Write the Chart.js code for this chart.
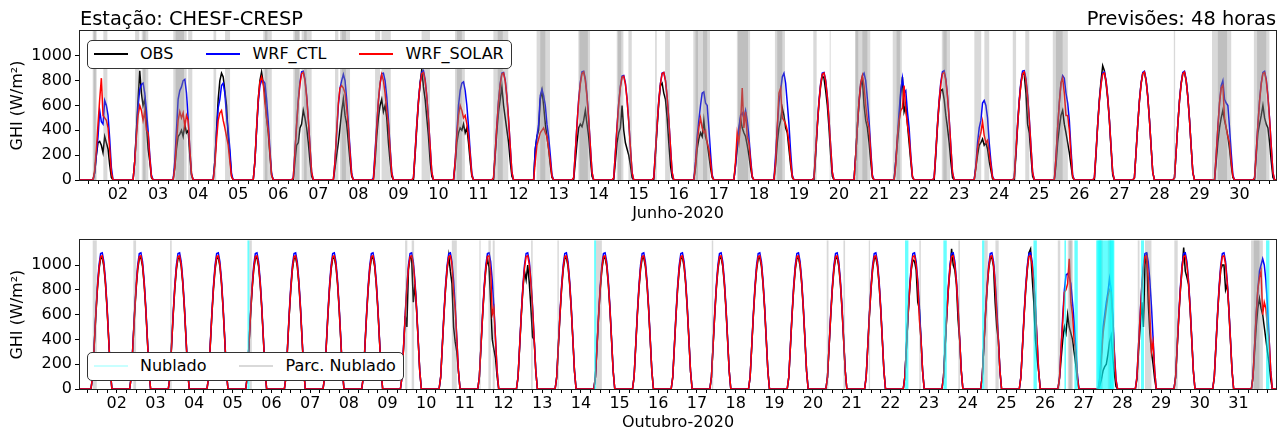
<!DOCTYPE html>
<html lang="pt-BR">
<head>
<meta charset="utf-8">
<title>GHI - CHESF-CRESP</title>
<script src="https://cdn.jsdelivr.net/npm/chart.js"></script>
<style>
  body { margin: 0; background: #fff; }
  #wrap { position: relative; width: 1286px; height: 434px; font-family: 'DejaVu Sans', sans-serif; color: #000; }
  canvas { position: absolute; left: 0; }
  #topChart { top: 0; }
  #bottomChart { top: 225px; }
  .title { position: absolute; top: 9px; font-size: 19.4px; line-height: 20px; white-space: nowrap; }
  .legend { position: absolute; left: 87px; z-index: 2; box-sizing: border-box; height: 29px; border: 1px solid #333;
            border-radius: 5px; background: #fff; display: flex; align-items: center; padding: 0 7px 2px 6px;
            font-size: 16px; white-space: nowrap; }
  .legend .item { display: flex; align-items: center; margin-right: 33px; }
  .legend .item:last-child { margin-right: 0; }
  .legend .swatch { width: 34px; height: 0; border-top: 2px solid; margin-right: 12px; }
</style>
</head>
<body>
<div id="wrap">
  <canvas id="topChart" width="1286" height="225"></canvas>
  <canvas id="bottomChart" width="1286" height="209"></canvas>
  <div class="title" style="left:80px">Estação: CHESF-CRESP</div>
  <div class="title" style="right:10px">Previsões: 48 horas</div>
  <div class="legend" style="top:40px">
    <div class="item"><span class="swatch" style="border-color:#000"></span>OBS</div>
    <div class="item"><span class="swatch" style="border-color:#0000ff"></span>WRF_CTL</div>
    <div class="item"><span class="swatch" style="border-color:#ff0000"></span>WRF_SOLAR</div>
  </div>
  <div class="legend" style="top:352px">
    <div class="item"><span class="swatch" style="border-color:#c8ffff"></span>Nublado</div>
    <div class="item"><span class="swatch" style="border-color:#d9d9d9"></span>Parc. Nublado</div>
  </div>
</div>
<script>
// horas UTC dos valores diurnos e das horas de noite (GHI = 0)
const dayHours = [9, 10, 11, 12, 13, 14, 15, 16, 17, 18, 19, 20];
const nightHours = [8, 21];

// Junho-2020: um vetor de 12 valores horarios por dia (W/m2)
const ctlJun = [
  [0, 60, 200, 350, 560, 470, 450, 640, 600, 520, 330, 100],
  [0, 150, 380, 600, 730, 770, 780, 700, 560, 400, 200, 40],
  [0, 150, 400, 650, 720, 750, 800, 810, 700, 500, 250, 50],
  [0, 150, 380, 580, 650, 760, 780, 700, 520, 400, 250, 50],
  [0, 150, 400, 620, 760, 800, 800, 780, 650, 470, 250, 50],
  [18, 230, 451, 646, 788, 872, 876, 814, 681, 496, 274, 62],
  [0, 150, 380, 600, 740, 800, 850, 800, 650, 450, 250, 50],
  [17, 226, 444, 635, 774, 857, 861, 800, 670, 487, 270, 61],
  [18, 229, 449, 642, 783, 867, 881, 810, 678, 493, 273, 62],
  [0, 150, 380, 600, 720, 780, 790, 720, 600, 430, 230, 50],
  [18, 228, 446, 639, 779, 862, 866, 805, 674, 490, 271, 61],
  [0, 250, 350, 450, 680, 730, 680, 600, 450, 350, 200, 40],
  [18, 230, 451, 646, 788, 872, 876, 814, 681, 496, 274, 62],
  [17, 221, 434, 621, 757, 837, 842, 782, 655, 476, 264, 60],
  [18, 228, 446, 639, 779, 862, 866, 805, 674, 490, 271, 61],
  [0, 150, 350, 480, 600, 700, 710, 620, 600, 420, 220, 40],
  [0, 120, 300, 420, 520, 540, 500, 560, 480, 350, 180, 30],
  [0, 200, 420, 620, 720, 830, 860, 780, 620, 450, 230, 40],
  [18, 228, 446, 639, 779, 862, 866, 805, 674, 490, 271, 61],
  [0, 200, 430, 640, 780, 840, 860, 800, 650, 480, 250, 40],
  [0, 150, 350, 550, 720, 820, 700, 720, 550, 420, 200, 30],
  [18, 230, 451, 646, 788, 872, 880, 814, 681, 496, 274, 62],
  [0, 120, 300, 420, 480, 620, 640, 600, 500, 300, 150, 30],
  [18, 231, 454, 650, 792, 877, 881, 819, 685, 498, 276, 62],
  [0, 180, 420, 620, 780, 840, 820, 700, 620, 480, 250, 40],
  [18, 228, 446, 639, 779, 862, 870, 805, 674, 490, 271, 61],
  [18, 229, 449, 642, 783, 867, 876, 810, 678, 493, 273, 62],
  [18, 229, 449, 642, 783, 867, 876, 810, 678, 493, 273, 62],
  [0, 200, 420, 620, 760, 800, 650, 620, 600, 420, 220, 40],
  [18, 229, 449, 642, 783, 867, 876, 810, 678, 493, 273, 62]
];

const solarJun = [
  [0, 80, 250, 450, 650, 820, 520, 500, 480, 420, 250, 60],
  [0, 150, 350, 520, 600, 560, 480, 550, 400, 380, 180, 30],
  [0, 100, 300, 480, 550, 500, 540, 430, 520, 480, 250, 50],
  [0, 120, 320, 480, 540, 560, 480, 420, 350, 280, 150, 30],
  [0, 150, 420, 650, 790, 830, 780, 620, 500, 400, 220, 40],
  [17, 226, 444, 635, 774, 857, 866, 800, 670, 487, 270, 61],
  [0, 150, 400, 620, 740, 760, 740, 700, 580, 420, 220, 40],
  [0, 200, 420, 640, 780, 850, 800, 700, 560, 450, 250, 50],
  [17, 226, 444, 635, 774, 857, 866, 800, 670, 487, 270, 61],
  [0, 150, 350, 520, 600, 560, 500, 520, 450, 350, 200, 40],
  [17, 225, 441, 631, 770, 852, 861, 796, 666, 484, 268, 61],
  [0, 150, 280, 330, 380, 400, 420, 380, 350, 250, 150, 30],
  [17, 226, 444, 635, 774, 857, 870, 800, 670, 487, 270, 61],
  [17, 218, 428, 613, 748, 827, 836, 773, 647, 470, 260, 59],
  [17, 226, 444, 635, 774, 857, 866, 800, 670, 487, 270, 61],
  [0, 120, 300, 420, 500, 420, 380, 400, 300, 250, 150, 30],
  [0, 150, 380, 300, 450, 740, 420, 550, 350, 300, 150, 30],
  [0, 150, 420, 700, 740, 500, 480, 450, 400, 300, 150, 30],
  [17, 225, 441, 631, 770, 852, 861, 796, 666, 484, 268, 61],
  [0, 200, 430, 640, 780, 840, 760, 600, 480, 420, 220, 30],
  [0, 120, 350, 480, 560, 580, 760, 560, 450, 350, 180, 30],
  [17, 226, 444, 635, 774, 857, 866, 800, 670, 487, 270, 61],
  [0, 100, 250, 330, 380, 470, 360, 300, 320, 220, 120, 20],
  [17, 226, 444, 635, 774, 857, 870, 800, 670, 487, 270, 61],
  [0, 180, 420, 620, 780, 820, 700, 520, 520, 400, 200, 30],
  [17, 225, 441, 631, 770, 852, 861, 796, 666, 484, 268, 61],
  [17, 226, 444, 635, 774, 857, 870, 800, 670, 487, 270, 61],
  [17, 226, 444, 635, 774, 857, 870, 800, 670, 487, 270, 61],
  [0, 200, 420, 620, 740, 760, 500, 420, 350, 300, 150, 30],
  [17, 226, 444, 635, 774, 857, 866, 800, 670, 487, 270, 61]
];

const obsJun = [
  [0, 60, 200, 300, 310, 280, 220, 350, 300, 250, 120, 20],
  [0, 150, 400, 650, 880, 700, 600, 650, 450, 250, 150, 20],
  [0, 100, 250, 350, 370, 400, 350, 450, 380, 400, 200, 40],
  [0, 150, 400, 650, 800, 860, 830, 720, 600, 350, 200, 30],
  [0, 150, 400, 650, 800, 870, 780, 700, 500, 380, 200, 40],
  [0, 150, 280, 300, 420, 450, 560, 500, 420, 300, 150, 30],
  [0, 100, 200, 300, 420, 550, 650, 520, 450, 300, 150, 30],
  [0, 150, 350, 500, 600, 650, 550, 600, 500, 300, 150, 30],
  [0, 200, 420, 620, 780, 890, 750, 650, 500, 350, 150, 30],
  [0, 120, 300, 380, 420, 400, 450, 380, 420, 300, 150, 30],
  [0, 200, 400, 550, 650, 750, 600, 500, 400, 300, 150, 30],
  [0, 250, 350, 400, 650, 720, 600, 450, 350, 250, 120, 20],
  [0, 150, 300, 420, 450, 430, 480, 560, 450, 350, 180, 30],
  [0, 150, 300, 380, 420, 600, 400, 300, 250, 200, 120, 20],
  [0, 200, 420, 620, 760, 780, 700, 650, 500, 300, 120, 20],
  [0, 100, 250, 330, 380, 350, 480, 350, 300, 200, 100, 20],
  [0, 120, 250, 400, 500, 420, 380, 350, 280, 200, 100, 20],
  [0, 120, 300, 420, 480, 580, 520, 420, 380, 250, 120, 20],
  [0, 200, 430, 620, 760, 840, 820, 720, 600, 420, 200, 30],
  [0, 200, 430, 620, 760, 820, 600, 480, 420, 300, 150, 20],
  [0, 150, 300, 450, 700, 830, 550, 600, 450, 300, 150, 20],
  [0, 200, 430, 620, 720, 730, 650, 520, 420, 300, 150, 20],
  [0, 100, 200, 280, 300, 330, 280, 300, 250, 150, 80, 10],
  [0, 200, 430, 630, 780, 860, 850, 700, 450, 380, 200, 30],
  [0, 120, 300, 420, 520, 560, 450, 380, 300, 220, 120, 20],
  [0, 200, 450, 650, 800, 920, 880, 780, 650, 480, 250, 40],
  [17, 226, 444, 635, 774, 857, 866, 800, 670, 487, 270, 61],
  [17, 226, 444, 635, 774, 857, 866, 800, 670, 487, 270, 61],
  [0, 150, 300, 420, 500, 560, 480, 420, 350, 250, 120, 20],
  [0, 200, 380, 450, 520, 600, 500, 450, 420, 300, 150, 20]
];

// Outubro-2020: dias de ceu claro repetem a mesma leitura
const ctlClearOct = [100, 355, 611, 833, 999, 1093, 1099, 1027, 877, 666, 411, 150];
const solarClearOct = [98, 347, 597, 814, 977, 1069, 1074, 1004, 857, 651, 401, 146];
const obsClearOct = [96, 342, 589, 803, 963, 1054, 1059, 990, 845, 642, 396, 144];

const ctlOct = [
  ctlClearOct, ctlClearOct, ctlClearOct, ctlClearOct, ctlClearOct, ctlClearOct, ctlClearOct, ctlClearOct,
  ctlClearOct, ctlClearOct, ctlClearOct, ctlClearOct, ctlClearOct, ctlClearOct, ctlClearOct, ctlClearOct,
  ctlClearOct, ctlClearOct, ctlClearOct, ctlClearOct, ctlClearOct, ctlClearOct, ctlClearOct, ctlClearOct,
  ctlClearOct,
  [100, 355, 600, 800, 920, 930, 900, 850, 700, 550, 350, 130],
  [0, 100, 300, 500, 600, 700, 780, 890, 800, 600, 300, 80],
  ctlClearOct, ctlClearOct, ctlClearOct,
  [100, 355, 611, 800, 950, 1000, 1050, 1000, 877, 666, 411, 150]
];

const solarOct = [
  solarClearOct, solarClearOct, solarClearOct, solarClearOct, solarClearOct, solarClearOct,
  solarClearOct, solarClearOct, solarClearOct,
  [98, 347, 597, 814, 977, 1069, 1074, 1004, 780, 651, 401, 146],
  [98, 347, 597, 814, 977, 1069, 1074, 950, 600, 651, 401, 146],
  solarClearOct, solarClearOct, solarClearOct, solarClearOct, solarClearOct, solarClearOct,
  solarClearOct, solarClearOct, solarClearOct, solarClearOct,
  [98, 347, 597, 814, 977, 1069, 1074, 1004, 857, 560, 401, 146],
  solarClearOct,
  [98, 347, 597, 814, 977, 1069, 1074, 1004, 857, 600, 401, 146],
  solarClearOct,
  [98, 347, 550, 780, 800, 850, 1050, 700, 600, 400, 300, 100],
  [0, 80, 250, 450, 550, 650, 750, 800, 780, 550, 280, 70],
  [98, 347, 597, 814, 977, 1069, 1074, 900, 600, 300, 380, 146],
  solarClearOct, solarClearOct,
  [98, 347, 597, 800, 900, 950, 600, 700, 650, 500, 401, 146]
];

const obsOct = [
  obsClearOct, obsClearOct, obsClearOct, obsClearOct, obsClearOct, obsClearOct, obsClearOct, obsClearOct,
  [96, 342, 589, 500, 963, 1060, 1054, 700, 845, 642, 396, 144],
  [96, 342, 589, 803, 963, 1075, 950, 850, 500, 380, 300, 144],
  [96, 342, 589, 803, 963, 1054, 980, 700, 400, 320, 250, 100],
  [96, 342, 589, 803, 950, 880, 1000, 850, 650, 420, 396, 144],
  obsClearOct, obsClearOct, obsClearOct, obsClearOct, obsClearOct, obsClearOct, obsClearOct,
  obsClearOct, obsClearOct,
  [96, 342, 589, 803, 963, 1040, 1030, 960, 700, 642, 396, 144],
  [96, 342, 589, 803, 963, 1130, 1000, 960, 841, 560, 396, 144],
  [96, 342, 589, 803, 963, 1054, 1059, 990, 700, 500, 396, 144],
  [96, 342, 589, 803, 963, 1100, 1130, 900, 700, 400, 250, 144],
  [90, 250, 400, 500, 450, 600, 500, 450, 400, 300, 200, 80],
  [0, 30, 80, 150, 180, 200, 280, 380, 430, 250, 120, 20],
  [80, 300, 500, 700, 500, 1000, 1100, 700, 450, 300, 200, 80],
  [96, 342, 589, 803, 963, 1140, 950, 900, 845, 642, 396, 144],
  [96, 342, 589, 803, 963, 1000, 1000, 800, 845, 642, 396, 144],
  [96, 300, 500, 650, 730, 650, 600, 500, 400, 300, 200, 80]
];

// periodos classificados: [dia, hora inicial, hora final] (UTC)
const parcNubJun = [
  [1, 8.8, 11.2], [1, 9.4, 10.6], [1, 15.2, 17.6],
  [2, 10.2, 12.7], [2, 14.2, 18.1], [2, 15.0, 16.5],
  [3, 9.1, 17.1], [3, 10.5, 15.5], [3, 18.0, 20.5],
  [4, 9.2, 10.8], [4, 16.1, 19.1],
  [5, 15.0, 20.1], [5, 16.0, 17.5],
  [6, 9.0, 13.0], [6, 10.0, 12.5], [6, 14.0, 20.0], [6, 15.5, 17.0],
  [7, 10.0, 12.0], [7, 13.0, 19.0], [7, 14.0, 16.5],
  [8, 10.0, 13.0], [8, 13.9, 19.4],
  [9, 13.9, 18.9],
  [10, 9.9, 15.8], [10, 11.0, 14.0],
  [11, 8.9, 17.8], [11, 11.5, 14.5],
  [12, 10.8, 18.8], [12, 13.0, 16.0],
  [13, 11.8, 18.8], [13, 12.5, 17.5],
  [14, 10.8, 14.8], [14, 11.5, 13.5], [14, 17.8, 19.8],
  [15, 9.8, 10.8], [15, 15.8, 18.7],
  [16, 8.7, 18.7], [16, 10.0, 11.5], [16, 14.5, 17.0],
  [17, 10.8, 18.7], [17, 11.5, 17.5],
  [18, 9.6, 15.6], [18, 11.0, 14.0],
  [19, 8.6, 10.6], [19, 18.4, 19.0],
  [20, 9.6, 18.7], [20, 10.0, 11.5], [20, 14.0, 17.0],
  [21, 8.2, 13.6], [21, 10.5, 12.5],
  [22, 13.6, 18.5], [22, 14.5, 16.5],
  [23, 9.1, 13.2], [23, 15.1, 18.0],
  [24, 8.1, 10.1], [24, 15.6, 18.0],
  [25, 8.1, 17.1], [25, 10.0, 14.0],
  [28, 8.6, 9.4],
  [29, 7.5, 19.0], [29, 11.0, 16.5],
  [30, 8.6, 17.9], [30, 10.5, 16.0]
];

const parcNubOct = [
  [1, 9.1, 11.6], [2, 10.3, 12.0], [3, 9.1, 10.1], [5, 10.3, 11.8],
  [9, 10.9, 12.3], [9, 15.0, 16.5], [10, 15.9, 19.0],
  [11, 9.0, 9.8], [11, 14.6, 16.1], [11, 17.3, 18.5],
  [12, 17.1, 18.1], [13, 9.4, 10.3], [14, 9.4, 13.0], [17, 9.2, 10.1],
  [20, 8.5, 9.6], [20, 18.9, 19.9], [21, 10.6, 11.4], [22, 18.0, 18.9], [23, 18.2, 19.2],
  [24, 10.3, 12.4], [24, 17.2, 19.2],
  [26, 7.9, 9.4], [26, 14.1, 17.2], [26, 15.0, 16.5],
  [27, 9.6, 11.8], [27, 14.9, 17.0],
  [28, 9.5, 10.6], [28, 14.0, 18.0], [29, 8.2, 10.3],
  [31, 7.8, 15.1], [31, 9.5, 13.0]
];

const nubOct = [
  [5, 9.1, 10.3], [14, 8.2, 9.4], [22, 9.1, 11.2], [23, 8.9, 11.0], [24, 8.9, 10.3],
  [25, 16.8, 18.9], [26, 12.0, 13.0], [26, 18.2, 20.3],
  [27, 7.7, 19.0], [27, 8.5, 11.0], [27, 16.0, 18.5],
  [28, 11.5, 13.4], [31, 17.1, 19.2]
];

const fontFamily = "'DejaVu Sans', sans-serif";
Chart.defaults.font.family = fontFamily;
Chart.defaults.color = '#000';

function buildSeries(rows) {
  const pts = [{x: 0, y: 0}];
  rows.forEach((vals, i) => {
    pts.push({x: i + nightHours[0] / 24, y: 0});
    vals.forEach((v, k) => pts.push({x: i + dayHours[k] / 24, y: v}));
    pts.push({x: i + nightHours[1] / 24, y: 0});
  });
  pts.push({x: rows.length, y: 0});
  return pts;
}

// faixas verticais (axvspan) desenhadas por cima das curvas
function spanPlugin(groups) {
  return {
    id: 'spans',
    afterDatasetsDraw(chart) {
      const {ctx, chartArea: a, scales: {x}} = chart;
      ctx.save();
      ctx.beginPath();
      ctx.rect(a.left, a.top, a.right - a.left, a.bottom - a.top);
      ctx.clip();
      groups.forEach(g => {
        ctx.fillStyle = g.color;
        g.spans.forEach(([day, h0, h1]) => {
          const x0 = x.getPixelForValue(day - 1 + h0 / 24);
          const x1 = x.getPixelForValue(day - 1 + h1 / 24);
          ctx.fillRect(x0, a.top, x1 - x0, a.bottom - a.top);
        });
      });
      ctx.restore();
    }
  };
}

const framePlugin = {
  id: 'frame',
  afterDraw(chart) {
    const {ctx, chartArea: a} = chart;
    ctx.save();
    ctx.strokeStyle = '#222';
    ctx.lineWidth = 1;
    ctx.strokeRect(Math.round(a.left) - 0.5, Math.round(a.top) - 0.5,
                   Math.round(a.right - a.left) + 1, Math.round(a.bottom - a.top) + 1);
    ctx.restore();
  }
};

function makeChart(canvasId, cfg) {
  const line = {borderWidth: 1.5, pointRadius: 0, fill: false, tension: 0};
  return new Chart(document.getElementById(canvasId), {
    type: 'line',
    data: {
      datasets: [
        {...line, label: 'WRF_SOLAR', data: buildSeries(cfg.solar), borderColor: '#ff0000', order: 0},
        {...line, label: 'WRF_CTL', data: buildSeries(cfg.ctl), borderColor: '#0000ff', order: 1},
        {...line, label: 'OBS', data: buildSeries(cfg.obs), borderColor: '#000000', order: 2}
      ]
    },
    options: {
      responsive: false,
      animation: false,
      events: [],
      parsing: false,
      layout: {padding: {left: 0, right: 10, top: cfg.padTop, bottom: 0}},
      plugins: {legend: {display: false}, tooltip: {enabled: false}},
      scales: {
        x: {
          type: 'linear',
          min: cfg.xMin,
          max: cfg.xMax,
          afterBuildTicks: s => {
            const ticks = [];
            for (let i = 1; i / 4 <= cfg.xMax; i++) ticks.push({value: i / 4});
            s.ticks = ticks;
          },
          afterFit: s => { s.height = 45; },
          ticks: {
            autoSkip: false, maxRotation: 0, minRotation: 0, padding: 1,
            font: {size: 16},
            callback: v => Number.isInteger(v) ? String(v + 1).padStart(2, '0') : ''
          },
          grid: {drawOnChartArea: false, tickLength: 4, color: '#000'},
          border: {display: false},
          title: {display: true, text: cfg.xTitle, font: {size: 16}, padding: {top: 0, bottom: 2}}
        },
        y: {
          min: 0,
          max: 1200,
          afterFit: s => { s.width = 80; },
          ticks: {stepSize: 200, padding: 3, font: {size: 16}, callback: v => v > 1000 ? null : v},
          grid: {drawOnChartArea: false, tickLength: 5, color: '#000'},
          border: {display: false},
          title: {display: true, text: 'GHI (W/m²)', font: {size: 16}, padding: {top: 8.5, bottom: 0}}
        }
      }
    },
    plugins: [spanPlugin(cfg.spans), framePlugin]
  });
}

makeChart('topChart', {
  ctl: ctlJun, solar: solarJun, obs: obsJun,
  xMin: 0.05, xMax: 29.91, xTitle: 'Junho-2020', padTop: 31,
  spans: [{color: 'rgba(128,128,128,0.3)', spans: parcNubJun}]
});

makeChart('bottomChart', {
  ctl: ctlOct, solar: solarOct, obs: obsOct,
  xMin: 0.05, xMax: 30.97, xTitle: 'Outubro-2020', padTop: 15.2,
  spans: [
    {color: 'rgba(128,128,128,0.3)', spans: parcNubOct},
    {color: 'rgba(0,255,255,0.6)', spans: nubOct}
  ]
});
</script>
</body>
</html>
